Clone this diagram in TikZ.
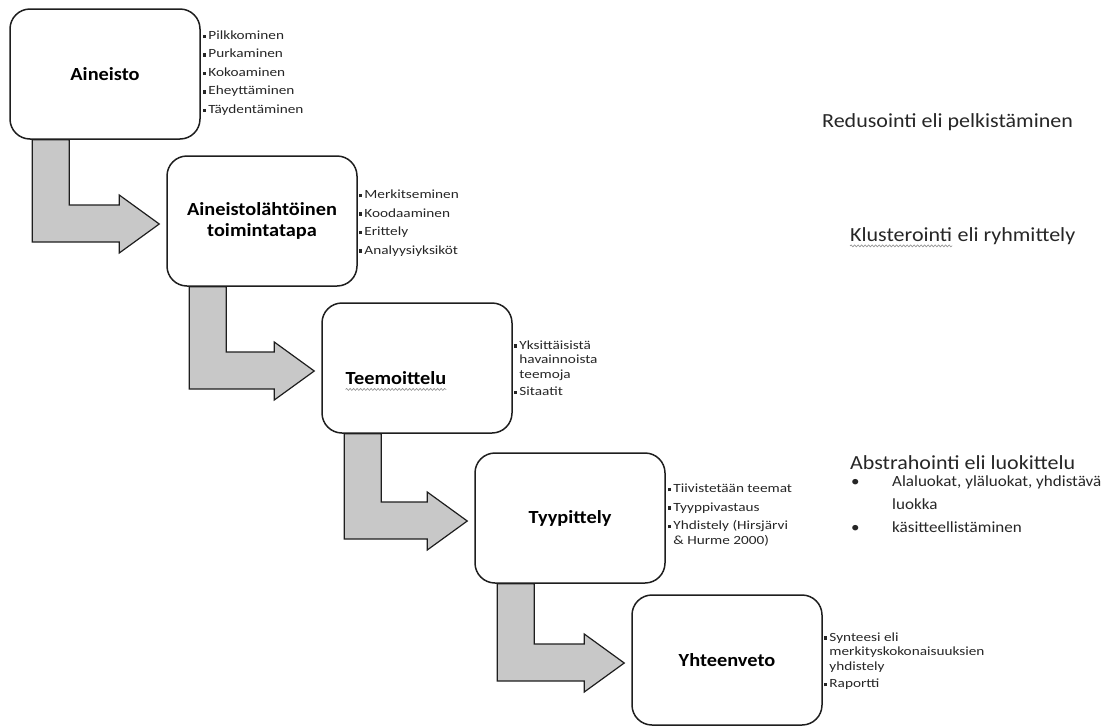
\documentclass[tikz,border=0pt]{standalone}
\usepackage{fontspec}
\setmainfont{Carlito}[FakeStretch=1.1]
\newfontfamily\listfont{Carlito}[FakeStretch=1.22]
\usetikzlibrary{calc,decorations.pathmorphing}

\definecolor{arrowgray}{RGB}{200,200,200}
\definecolor{linegray}{RGB}{30,30,30}

\tikzset{
  stepbox/.style={draw=linegray,line width=1.5pt,rounded corners=20pt,fill=white,
    minimum width=190pt,minimum height=130pt,align=center,
    font=\fontsize{18.5}{21}\selectfont\bfseries},
  titletext/.style={inner sep=0pt,font=\fontsize{18.5}{21}\selectfont\bfseries},
  itemlist/.style={anchor=west,inner sep=0pt,align=left,text=black!85,
    font=\listfont\fontsize{12.5}{14.5}\selectfont},
  sidelabel/.style={anchor=west,inner sep=0pt,text=black!85,
    font=\fontsize{20}{24}\selectfont},
  bentarrow/.style={draw=linegray,line width=1.2pt,fill=arrowgray,line join=miter},
  squiggle/.style={draw=black!45,line width=0.6pt,
    decorate,decoration={snake,amplitude=1pt,segment length=3.5pt}}
}

\newcommand\itm{\makebox[5.5pt][l]{\rule[1.3pt]{3.5pt}{3.5pt}}}
\newcommand\cnt{\hspace*{5.5pt}}
% bent arrow from the bottom of box #1 to the left side of box #2
\newcommand\bentarrow[2]{%
  \coordinate (a) at ($(#1.south west)+(23,0)$);
  \coordinate (b) at ($(#1.south west)+(60,0)$);
  \coordinate (t) at ($(#2.west)+(-7,3)$);
  \draw[bentarrow] (a) -- ($(a |- t)+(0,18)$) -- ($(t)+(-40,18)$)
    -- ($(t)+(-40,29)$) -- (t) -- ($(t)+(-40,-29)$) -- ($(t)+(-40,-19)$)
    -- ($(b |- t)+(0,-19)$) -- (b) -- cycle;
}

\begin{document}
\begin{tikzpicture}[x=1pt,y=-1pt]
  \useasboundingbox (0,0) rectangle (1109,726);

  \node[stepbox] (aineisto) at (105,74) {Aineisto};
  \node[stepbox] (toiminta) at (262,221) {Aineistolähtöinen\\toimintatapa};
  \node[stepbox] (teema) at (417,368) {};
  \node[stepbox] (tyyppi) at (570,518) {Tyypittely};
  \node[stepbox] (yhteen) at (727,660) {Yhteenveto};
  \node[titletext] (teematitle) at (396,378) {Teemoittelu};

  \bentarrow{aineisto}{toiminta}
  \bentarrow{toiminta}{teema}
  \bentarrow{teema}{tyyppi}
  \bentarrow{tyyppi}{yhteen}

  \node[itemlist] (list1) at ($(aineisto.east)+(2,-1)$)
    {\itm Pilkkominen\\[4pt] \itm Purkaminen\\[4pt] \itm Kokoaminen\\[4pt]
     \itm Eheyttäminen\\[4pt] \itm Täydentäminen};
  \node[itemlist] (list2) at ($(toiminta.east)+(1,2)$)
    {\itm Merkitseminen\\[4pt] \itm Koodaaminen\\[4pt] \itm Erittely\\[4pt]
     \itm Analyysiyksiköt};
  \node[itemlist] (list3) at ($(teema.east)+(1,0)$)
    {\itm Yksittäisistä\\ \cnt havainnoista\\ \cnt teemoja\\[3pt] \itm Sitaatit};
  \node[itemlist] (list4) at ($(tyyppi.east)+(2,-3)$)
    {\itm Tiivistetään teemat\\[4pt] \itm Tyyppivastaus\\[4pt]
     \itm Yhdistely (Hirsjärvi\\ \cnt \& Hurme 2000)};
  \node[itemlist] (list5) at ($(yhteen.east)+(1,1)$)
    {\itm Synteesi eli\\ \cnt merkityskokonaisuuksien\\ \cnt yhdistely\\[3pt]
     \itm Raportti};

  \node[sidelabel] (redus) at (822,122) {Redusointi eli pelkistäminen};
  \node[sidelabel] (klust) at (850,235) {Klusterointi};
  \node[sidelabel,anchor=base west] (ryhm) at (klust.base east) {~eli ryhmittely};
  \node[sidelabel] (abstr) at (850,463) {Abstrahointi eli luokittelu};
  \node[anchor=north west,inner sep=0pt,align=left,text=black!85,
    font=\fontsize{15.5}{23}\selectfont] (abstrlist) at (851,476)
    {\makebox[41pt][l]{•}Alaluokat, yläluokat, yhdistävä\\
     \hspace*{41pt}luokka\\
     \makebox[41pt][l]{•}käsitteellistäminen};

  \draw[squiggle] ($(klust.base west)+(0,4)$) -- ($(klust.base east)+(0,4)$);
  \draw[squiggle] ($(teematitle.base west)+(0,5)$) -- ($(teematitle.base east)+(0,5)$);
\end{tikzpicture}
\end{document}
